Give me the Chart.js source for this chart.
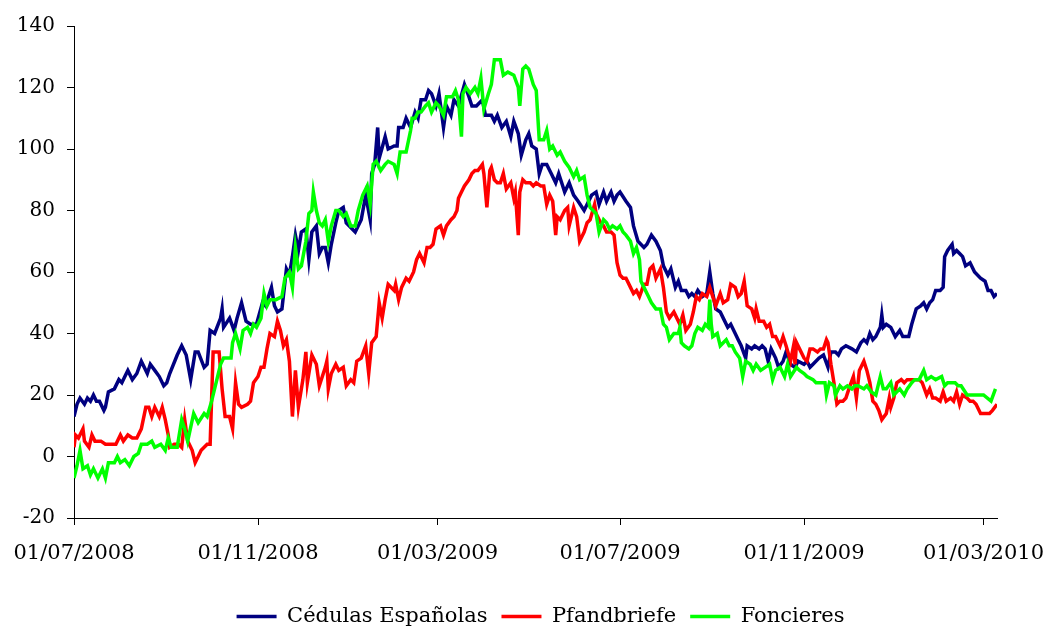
<!DOCTYPE html>
<html>
<head>
<meta charset="utf-8">
<script src="https://cdn.jsdelivr.net/npm/chart.js@4.4.1/dist/chart.umd.min.js"></script>
<style>
  html, body { margin: 0; padding: 0; background: #ffffff; }
  #wrap { width: 1048px; height: 628px; position: relative; }
</style>
</head>
<body>
<div id="wrap"><canvas id="chart" width="1048" height="628"></canvas></div>
<script>
// Day offsets are counted from 01/07/2008.
const startDate = Date.UTC(2008, 6, 1);

// Date tick labels on the horizontal axis
const xTickLabels = ['01/07/2008', '01/11/2008', '01/03/2009', '01/07/2009', '01/11/2009', '01/03/2010'];
// Value ticks on the vertical axis
const yTicks = [-20, 0, 20, 40, 60, 80, 100, 120, 140];

const seriesNames = ['Cédulas Españolas', 'Pfandbriefe', 'Foncieres'];

// [day offset, spread]
const cedulas = [
  [0,13],[2,17],[4,19],[7,17],[9,19],[11,18],[13,20],[15,18],[17,18],[20,15],[21,16],[23,21],[27,22],[30,25],[32,24],[34,26],[36,28],[39,25],[42,27],[45,31],[49,27],[51,30],[54,28],[57,26],[60,23],[62,24],[64,27],[69,33],[72,36],[75,33],[78,25],[81,34],[83,34],[87,29],[89,30],[91,41],[94,40],[98,45],[99,48],[100,42],[104,45],[107,41],[109,45],[112,50],[115,44],[118,43],[122,43],[126,50],[128,49],[132,55],[134,49],[136,47],[139,48],[142,61],[144,59],[146,65],[148,72],[150,67],[152,73],[155,74],[157,64],[159,73],[162,75],[164,66],[166,68],[168,68],[170,63],[172,69],[175,76],[177,80],[180,81],[182,76],[186,74],[188,73],[192,77],[195,85],[198,77],[199,92],[201,95],[203,107],[204,97],[208,104],[210,100],[214,101],[216,101],[217,107],[220,107],[222,110],[225,107],[228,112],[230,110],[232,116],[235,116],[237,119],[239,118],[242,114],[244,118],[247,107],[249,114],[252,111],[254,116],[257,114],[261,121],[264,117],[266,114],[269,114],[273,116],[275,111],[279,111],[281,109],[283,111],[286,107],[289,109],[292,104],[294,109],[297,105],[299,98],[302,103],[304,105],[306,101],[309,100],[311,92],[313,95],[316,95],[319,92],[322,89],[324,92],[326,89],[328,86],[331,89],[334,85],[337,83],[341,80],[344,83],[346,85],[349,86],[351,82],[354,86],[356,83],[359,86],[361,83],[363,85],[365,86],[369,83],[372,81],[374,75],[377,70],[381,68],[383,69],[386,72],[389,70],[392,67],[394,62],[397,59],[399,61],[402,55],[404,57],[406,54],[409,54],[411,52],[413,53],[415,52],[417,54],[420,52],[423,53],[425,60],[427,53],[429,48],[432,47],[434,45],[437,42],[439,43],[442,40],[444,38],[446,36],[449,32],[450,36],[453,35],[455,36],[458,35],[460,36],[462,35],[464,31],[466,35],[469,32],[471,29],[474,31],[476,34],[479,30],[482,29],[484,31],[488,30],[490,31],[492,29],[494,30],[498,32],[501,33],[504,29],[506,34],[509,34],[511,33],[513,35],[516,36],[520,35],[523,34],[526,37],[528,38],[530,37],[532,40],[534,38],[536,39],[539,42],[540,46],[541,42],[543,43],[546,42],[549,39],[552,41],[554,39],[558,39],[560,43],[563,48],[566,49],[568,50],[570,48],[572,50],[574,51],[576,54],[579,54],[581,55],[582,65],[584,67],[587,69],[588,66],[590,67],[592,66],[594,65],[596,62],[599,63],[602,60],[606,58],[609,57],[611,54],[613,54],[615,52],[617,53]
];

const pfandbriefe = [
  [0,3],[1,7],[3,6],[6,9],[7,5],[10,3],[12,7],[14,5],[18,5],[21,4],[24,4],[28,4],[31,7],[33,5],[36,7],[39,6],[42,6],[45,9],[48,16],[50,16],[52,13],[54,16],[57,13],[59,16],[61,12],[63,7],[64,3],[67,4],[70,4],[72,3],[74,12],[76,5],[79,2],[81,-2],[83,0],[85,2],[89,4],[91,4],[93,34],[97,34],[99,22],[101,13],[104,13],[106,9],[108,24],[110,17],[112,16],[116,17],[118,18],[120,24],[123,26],[125,29],[127,29],[129,35],[131,40],[134,39],[136,44],[138,41],[140,36],[142,38],[144,31],[146,13],[148,28],[150,16],[153,25],[155,34],[156,24],[159,33],[162,30],[164,23],[166,26],[168,29],[169,31],[170,22],[172,27],[175,30],[177,28],[180,29],[182,23],[185,25],[187,24],[189,31],[192,32],[195,36],[197,27],[199,37],[202,39],[204,50],[206,45],[208,51],[210,56],[214,54],[215,56],[217,51],[219,55],[222,58],[224,57],[227,60],[229,64],[231,66],[234,63],[236,68],[238,68],[240,69],[242,74],[245,75],[247,72],[249,75],[252,77],[254,78],[256,80],[257,84],[259,86],[261,88],[264,90],[266,92],[268,93],[270,93],[273,95],[274,92],[276,81],[278,93],[279,94],[281,90],[283,89],[285,89],[287,92],[289,87],[292,89],[294,84],[295,86],[297,72],[298,86],[300,90],[302,89],[305,89],[307,88],[309,89],[312,88],[314,88],[316,82],[318,85],[320,83],[322,72],[323,78],[325,77],[328,80],[330,81],[331,75],[334,81],[336,78],[338,70],[341,73],[343,76],[345,77],[348,82],[349,79],[352,76],[354,75],[356,73],[359,73],[361,72],[363,63],[365,59],[367,58],[369,58],[372,55],[374,53],[376,54],[378,52],[381,56],[383,56],[385,61],[387,62],[389,58],[392,61],[394,55],[396,47],[398,45],[401,47],[403,45],[405,43],[407,46],[409,41],[412,43],[414,47],[416,52],[418,51],[420,53],[423,52],[425,55],[427,52],[429,49],[432,53],[434,50],[437,51],[439,56],[442,55],[444,52],[446,53],[448,57],[450,49],[453,48],[455,45],[456,48],[458,44],[461,44],[463,42],[465,43],[467,39],[469,39],[472,36],[474,39],[476,36],[479,31],[481,36],[482,30],[483,37],[485,35],[488,32],[490,31],[492,35],[494,35],[497,34],[499,35],[501,35],[503,38],[504,37],[506,30],[508,24],[510,17],[512,18],[514,18],[516,19],[518,22],[521,26],[523,19],[525,28],[528,31],[530,28],[532,24],[534,18],[536,17],[538,15],[540,12],[543,14],[545,19],[546,16],[548,19],[550,24],[553,25],[555,24],[557,25],[560,25],[563,25],[565,25],[567,24],[570,20],[572,22],[574,19],[576,19],[579,18],[581,21],[583,18],[586,19],[588,18],[590,21],[592,17],[594,20],[597,19],[599,18],[601,18],[603,17],[606,14],[610,14],[612,14],[614,15],[617,17]
];

const foncieres = [
  [0,-7],[2,-3],[4,2],[6,-4],[9,-3],[11,-6],[13,-4],[16,-7],[19,-4],[21,-7],[23,-2],[27,-2],[29,0],[31,-2],[34,-1],[37,-3],[40,0],[43,1],[45,4],[49,4],[52,5],[54,3],[58,4],[61,2],[63,6],[65,3],[69,3],[72,12],[74,9],[76,5],[80,14],[83,11],[87,14],[89,13],[92,18],[95,24],[98,30],[100,32],[103,32],[105,32],[106,37],[108,40],[111,35],[113,41],[116,42],[118,40],[120,43],[122,42],[125,45],[127,53],[129,49],[131,51],[135,51],[139,52],[141,58],[144,60],[146,55],[148,68],[150,61],[152,62],[155,70],[157,79],[159,80],[160,86],[162,80],[164,76],[166,75],[168,77],[170,70],[172,75],[175,80],[177,80],[180,78],[182,79],[185,75],[188,75],[190,80],[193,85],[196,88],[198,82],[200,95],[202,96],[205,93],[208,95],[210,96],[214,95],[216,92],[218,99],[220,99],[222,99],[225,106],[226,110],[228,110],[230,112],[232,112],[235,114],[237,115],[239,112],[242,115],[244,114],[247,111],[249,117],[253,117],[255,119],[257,116],[259,104],[260,118],[262,120],[265,118],[268,120],[270,118],[272,123],[274,113],[277,118],[279,121],[281,129],[285,129],[287,124],[290,125],[294,124],[297,120],[298,114],[300,126],[302,127],[304,126],[307,121],[309,119],[311,103],[314,103],[316,106],[318,100],[320,101],[323,98],[325,99],[327,97],[328,96],[331,94],[334,91],[336,93],[338,90],[341,91],[343,85],[345,81],[347,80],[349,79],[351,73],[354,77],[356,76],[358,74],[360,75],[363,74],[365,75],[367,73],[369,72],[372,70],[374,66],[376,68],[378,64],[379,57],[381,55],[384,52],[386,50],[389,48],[392,48],[394,43],[396,42],[398,38],[401,40],[404,40],[405,42],[406,37],[408,36],[411,35],[413,36],[415,40],[417,42],[420,41],[422,43],[424,42],[425,51],[426,43],[427,39],[430,40],[432,36],[434,37],[436,38],[438,36],[440,36],[442,34],[445,32],[447,26],[449,31],[452,30],[454,28],[456,30],[459,28],[462,29],[465,30],[467,25],[469,28],[472,29],[475,26],[477,30],[479,26],[483,29],[485,28],[488,27],[490,26],[494,25],[496,24],[499,24],[502,24],[503,20],[505,24],[508,23],[509,20],[512,23],[514,22],[517,23],[520,22],[522,23],[524,23],[528,22],[530,23],[533,21],[536,20],[539,26],[541,22],[543,22],[546,24],[548,20],[552,22],[555,20],[557,22],[560,24],[562,25],[565,25],[568,28],[570,25],[573,26],[576,25],[580,26],[582,23],[584,24],[589,24],[591,23],[593,23],[597,20],[599,20],[605,20],[608,20],[613,18],[616,22]
];

const DAY = 86400000;
function labelToDay(label) {
  const [d, m, y] = label.split('/').map(Number);
  return Math.round((Date.UTC(y, m - 1, d) - startDate) / DAY);
}
function dayToLabel(day) {
  const dt = new Date(startDate + day * DAY);
  const dd = String(dt.getUTCDate()).padStart(2, '0');
  const mm = String(dt.getUTCMonth() + 1).padStart(2, '0');
  return dd + '/' + mm + '/' + dt.getUTCFullYear();
}
const xTickDays = xTickLabels.map(labelToDay);

const FONT = "'DejaVu Serif', serif";
const colors = ['#000080', '#ff0000', '#00ff00'];
const seriesData = [cedulas, pfandbriefe, foncieres];

const datasets = seriesNames.map((name, i) => ({
  label: name,
  data: seriesData[i].map(([x, y]) => ({ x, y })),
  borderColor: colors[i],
  backgroundColor: colors[i],
  borderWidth: 3.5,
  pointRadius: 0,
  tension: 0,
  order: 2 - i
}));

// Nudge the legend row into its final place below the axis labels.
const legendPlacement = {
  id: 'legendPlacement',
  afterUpdate(chart) {
    const lg = chart.legend;
    if (!lg) return;
    const dy = 9, dx = 42;
    lg.top += dy; lg.bottom += dy;
    lg.left += dx; lg.right += dx;
  }
};

new Chart(document.getElementById('chart'), {
  type: 'line',
  data: { datasets },
  plugins: [legendPlacement],
  options: {
    responsive: false,
    animation: false,
    events: [],
    layout: { padding: { top: 26, right: 51, left: 0, bottom: 0 } },
    scales: {
      x: {
        type: 'linear',
        min: 0,
        max: 617,
        afterBuildTicks: s => { s.ticks = xTickDays.map(v => ({ value: v })); },
        afterFit: s => { s.height = 65; s.paddingLeft = 0; s.paddingRight = 0; },
        ticks: {
          callback: v => dayToLabel(v),
          color: '#000',
          font: { family: FONT, size: 21 },
          padding: 16,
          maxRotation: 0,
          autoSkip: false
        },
        grid: { drawOnChartArea: false, drawTicks: true, tickLength: 7, color: '#000', lineWidth: 1 },
        border: { display: true, color: '#000', width: 1 }
      },
      y: {
        min: -20,
        max: 140,
        afterBuildTicks: s => { s.ticks = yTicks.map(v => ({ value: v })); },
        afterFit: s => { s.width = 74; s.paddingTop = 0; s.paddingBottom = 0; },
        ticks: {
          color: '#000',
          font: { family: FONT, size: 20 },
          padding: 12
        },
        grid: { drawOnChartArea: false, drawTicks: true, tickLength: 7, color: '#000', lineWidth: 1 },
        border: { display: true, color: '#000', width: 1 }
      }
    },
    plugins: {
      tooltip: { enabled: false },
      legend: {
        position: 'bottom',
        labels: {
          color: '#000',
          font: { family: FONT, size: 21 },
          usePointStyle: true,
          pointStyle: 'line',
          pointStyleWidth: 40,
          padding: 14,
          sort: (a, b) => a.datasetIndex - b.datasetIndex
        }
      }
    }
  }
});
</script>
</body>
</html>
